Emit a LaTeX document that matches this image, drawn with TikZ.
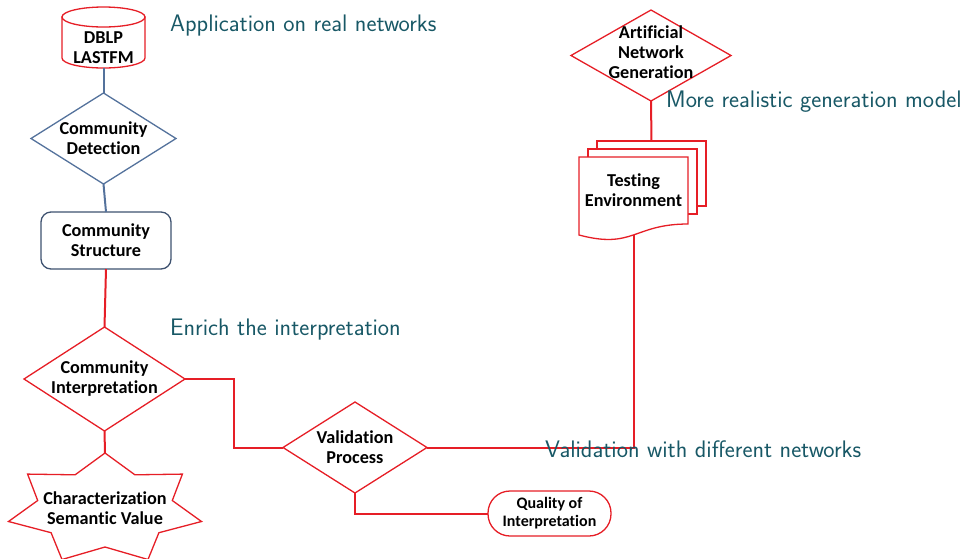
\documentclass[tikz,border=0pt]{standalone}
\usepackage{fontspec}
\newfontfamily\calfont{Carlito}[Ligatures={NoCommon}]
\usetikzlibrary{shapes.geometric}
\definecolor{myred}{RGB}{230,30,38}
\definecolor{lineblue}{RGB}{84,114,156}
\definecolor{boxblue}{RGB}{62,82,112}
\definecolor{tealtx}{RGB}{24,88,102}
\begin{document}
\begin{tikzpicture}[x=1pt,y=-1pt,
  nodetext/.style={font=\calfont\bfseries\fontsize{18.2}{20}\selectfont, align=center, text=black},
  smalltext/.style={font=\calfont\bfseries\fontsize{16}{18}\selectfont, align=center, text=black},
  dia/.style={diamond, draw=#1, line width=1.3pt, inner sep=0pt, outer sep=0pt, fill=white},
  dia/.default=myred,
  outline/.style={draw=myred, line width=1.3pt, fill=white},
  redline/.style={draw=myred, line width=2pt},
  blueline/.style={draw=lineblue, line width=2pt},
  teallabel/.style={font=\sffamily\fontsize{23.9}{28}\selectfont, text=tealtx, inner sep=0pt, anchor=base west}]
\path[use as bounding box, clip] (0,0) rectangle (966,558);

% cylinder DBLP / LASTFM
\node[minimum width=83pt, minimum height=61pt, inner sep=0pt, outer sep=0pt] (db) at (103.5,37.5) {};
\path[outline] (62,17) -- (62,58) arc[start angle=180, end angle=0, x radius=41.5, y radius=10] -- (145,17) -- cycle;
\path[outline] (103.5,17) ellipse[x radius=41.5, y radius=10];
\node[nodetext] (dbt) at (103.5,48) {DBLP\\LASTFM};

% Community Detection
\node[dia=lineblue, minimum width=145pt, minimum height=91pt,
      label={[nodetext]center:Community\\Detection}] (cd) at (103.5,138.5) {};

% Community Structure
\node[draw=boxblue, line width=1.3pt, rounded corners=10pt, fill=white, minimum width=130pt,
      minimum height=57pt, inner sep=0pt, outer sep=0pt, nodetext] (cs) at (106,240.5) {Community\\Structure};

% Community Interpretation
\node[dia, minimum width=161pt, minimum height=104pt,
      label={[nodetext]center:Community\\Interpretation}] (ci) at (104.5,379) {};

% Star
\coordinate (startop) at (105,453);
\path[outline] (105,453) -- (75.1,474.8) -- (27.6,474.1) -- (37.7,500.5) -- (8.5,521.5)
  -- (51.1,532.7) -- (62.0,559.5) -- (105,547) -- (148.0,559.5) -- (158.9,532.7)
  -- (201.5,521.5) -- (172.3,500.5) -- (182.4,474.1) -- (134.9,474.8) -- cycle;
\node[nodetext] (star) at (105,508) {Characterization\\Semantic Value};

% Validation Process
\node[dia, minimum width=144pt, minimum height=91pt,
      label={[nodetext]center:Validation\\Process}] (vp) at (355,447.5) {};

% Quality of Interpretation
\node[draw=myred, line width=1.3pt, rounded corners=22pt, fill=white, minimum width=123pt,
      minimum height=45pt, inner sep=0pt, outer sep=0pt, smalltext] (qi) at (549.5,513.5) {Quality of\\Interpretation};

% Artificial Network Generation
\node[dia, minimum width=160pt, minimum height=91pt,
      label={[nodetext, yshift=3.5pt]center:Artificial\\Network\\Generation}] (ang) at (651,55.5) {};

% Testing Environment (multi-document)
\coordinate (bp) at (651.5,141);
\path[outline] (597,141) rectangle (706,206);
\path[outline] (588,149) rectangle (697,214);
\node[minimum width=109pt, minimum height=78pt, inner sep=0pt, outer sep=0pt] (te) at (633.5,196) {};
\path[outline] (579,157) -- (688,157) -- (688,224) .. controls (633.5,224) and (633.5,249.5) .. (579,235) -- cycle;
\node[nodetext] (tet) at (633.5,190) {Testing\\Environment};

% connectors
\draw[blueline] (db.south) -- (cd.north);
\draw[blueline] (cd.south) -- (cs.north);
\draw[redline] (cs.south) -- (ci.north);
\draw[redline] (ci.south) -- (startop);
\draw[redline] (ci.east) -- ++(49,0) |- (vp.west);
\draw[redline] (vp.east) -| (te.south);
\draw[redline] (vp.south) |- (qi.west);
\draw[redline] (ang.south) -- (bp);

% teal annotations
\node[teallabel] (l1) at (170,31) {Application on real networks};
\node[teallabel] (l2) at (666,107) {More realistic generation model};
\node[teallabel] (l3) at (170,335) {Enrich the interpretation};
\node[teallabel] (l4) at (545,457) {Validation with different networks};
\end{tikzpicture}
\end{document}
